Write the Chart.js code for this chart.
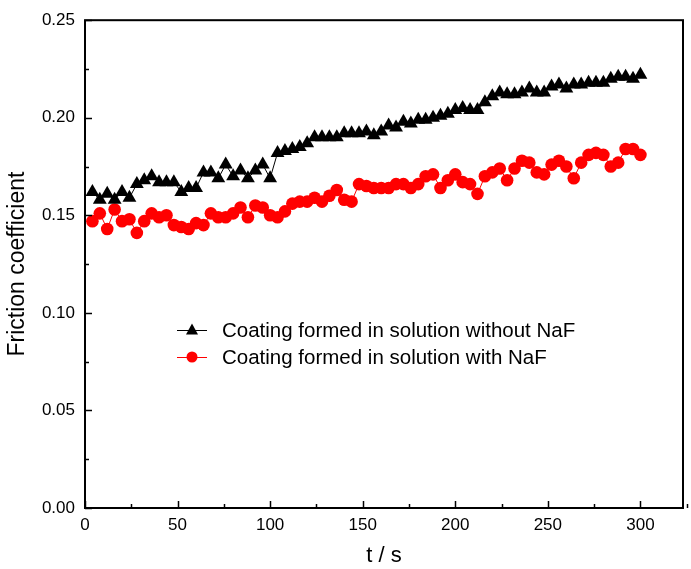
<!DOCTYPE html>
<html>
<head>
<meta charset="utf-8">
<script src="https://cdn.jsdelivr.net/npm/chart.js@4"></script>
<style>
  html, body { margin: 0; padding: 0; background: #fff; }
  #wrap { width: 691px; height: 569px; }
</style>
</head>
<body>
<div id="wrap"><canvas id="chart" width="691" height="569"></canvas></div>
<script>
// time (s)
const times = [4,8,12,16,20,24,28,32,36,40,44,48,52,56,60,64,68,72,76,80,84,88,92,96,100,
  104,108,112,116,120,124,128,132,136,140,144,148,152,156,160,164,168,172,176,180,184,188,192,196,200,
  204,208,212,216,220,224,228,232,236,240,244,248,252,256,260,264,268,272,276,280,284,288,292,296,300];

// Coating formed in solution without NaF
const withoutNaF = [0.162,0.158,0.161,0.158,0.162,0.159,0.166,0.168,0.170,0.167,0.167,0.167,0.162,0.164,0.164,
  0.172,0.172,0.169,0.176,0.170,0.173,0.169,0.173,0.176,0.169,
  0.182,0.183,0.184,0.185,0.187,0.190,0.190,0.190,0.190,0.192,0.192,0.192,0.193,0.191,0.193,
  0.196,0.195,0.198,0.197,0.199,0.199,0.200,0.201,0.202,0.204,
  0.205,0.204,0.204,0.208,0.211,0.213,0.212,0.212,0.213,0.215,0.213,0.213,0.216,0.217,0.215,
  0.217,0.217,0.218,0.218,0.218,0.220,0.221,0.221,0.220,0.222];

// Coating formed in solution with NaF
const withNaF = [0.147,0.151,0.143,0.153,0.147,0.148,0.141,0.147,0.151,0.149,0.150,0.145,0.144,0.143,0.146,
  0.145,0.151,0.149,0.149,0.151,0.154,0.149,0.155,0.154,0.150,
  0.149,0.152,0.156,0.157,0.157,0.159,0.157,0.160,0.163,0.158,0.157,0.166,0.165,0.164,0.164,
  0.164,0.166,0.166,0.164,0.166,0.170,0.171,0.164,0.168,0.171,
  0.167,0.166,0.161,0.170,0.172,0.174,0.168,0.174,0.178,0.177,0.172,0.171,0.176,0.178,0.175,
  0.169,0.177,0.181,0.182,0.181,0.175,0.177,0.184,0.184,0.181];

const seriesNames = ["Coating formed in solution without NaF", "Coating formed in solution with NaF"];
const xTicks = [0, 50, 100, 150, 200, 250, 300];
const yTicks = [0.00, 0.05, 0.10, 0.15, 0.20, 0.25];

const FONT = "'Liberation Sans', Arial, sans-serif";

// inward ticks + frame + legend, Origin style
const frame = {
  id: 'frame',
  afterDraw(chart) {
    const { ctx, chartArea: a, scales: { x, y } } = chart;
    ctx.save();
    ctx.strokeStyle = '#000';
    ctx.lineWidth = 1.5;
    for (let v = 0; v <= 325; v += 25) {
      const px = Math.round(x.getPixelForValue(v)) + 0.5;
      const len = v % 50 === 0 ? 7 : 4;
      ctx.beginPath(); ctx.moveTo(px, a.bottom); ctx.lineTo(px, a.bottom - len); ctx.stroke();
    }
    for (let i = 0; i <= 10; i++) {
      const v = i * 0.025;
      const py = Math.round(y.getPixelForValue(v)) + 0.5;
      const len = i % 2 === 0 ? 7 : 4;
      ctx.beginPath(); ctx.moveTo(a.left, py); ctx.lineTo(a.left + len, py); ctx.stroke();
    }
    ctx.lineWidth = 2;
    ctx.strokeRect(a.left, a.top, a.right - a.left, a.bottom - a.top);

    // legend inside plot
    const rows = [
      { ds: chart.data.datasets[0], y: 330 },
      { ds: chart.data.datasets[1], y: 357 }
    ];
    rows.forEach(r => {
      ctx.strokeStyle = r.ds.borderColor;
      ctx.lineWidth = 1;
      ctx.beginPath(); ctx.moveTo(177, r.y + 0.5); ctx.lineTo(207, r.y + 0.5); ctx.stroke();
      ctx.fillStyle = r.ds.pointBackgroundColor;
      ctx.beginPath();
      if (r.ds.pointStyle === 'triangle') {
        ctx.moveTo(192, r.y - 6.5); ctx.lineTo(198, r.y + 4.5); ctx.lineTo(186, r.y + 4.5); ctx.closePath();
      } else {
        ctx.arc(192, r.y, 5.5, 0, Math.PI * 2);
      }
      ctx.fill();
      ctx.fillStyle = '#000';
      ctx.font = '20.5px ' + FONT;
      ctx.textAlign = 'left';
      ctx.textBaseline = 'middle';
      ctx.fillText(r.ds.label, 222, r.y + 1);
    });
    ctx.restore();
  }
};

new Chart(document.getElementById('chart'), {
  type: 'line',
  data: {
    datasets: [
      {
        label: seriesNames[0],
        data: times.map((t, i) => ({ x: t, y: withoutNaF[i] })),
        borderColor: '#000',
        borderWidth: 1,
        pointStyle: 'triangle',
        pointRadius: 8,
        pointBackgroundColor: '#000',
        pointBorderColor: '#000',
        pointBorderWidth: 0,
        tension: 0
      },
      {
        label: seriesNames[1],
        data: times.map((t, i) => ({ x: t, y: withNaF[i] })),
        borderColor: '#ff0000',
        borderWidth: 1,
        pointStyle: 'circle',
        pointRadius: 6.3,
        pointBackgroundColor: '#ff0000',
        pointBorderColor: '#ff0000',
        pointBorderWidth: 0,
        tension: 0
      }
    ]
  },
  options: {
    responsive: false,
    animation: false,
    layout: { padding: { left: 4, top: 20, right: 7, bottom: 0 } },
    plugins: { legend: { display: false }, tooltip: { enabled: false } },
    scales: {
      x: {
        type: 'linear',
        min: 0, max: 323,
        afterBuildTicks: s => { s.ticks = xTicks.map(v => ({ value: v })); },
        afterFit: s => { s.height = 61; },
        grid: { display: false, drawTicks: false },
        border: { display: false },
        ticks: { color: '#000', font: { family: FONT, size: 17 }, padding: 7 },
        title: { display: true, text: 't / s', color: '#000', font: { family: FONT, size: 22 }, padding: { top: 4, bottom: 0 } }
      },
      y: {
        min: 0, max: 0.25,
        afterBuildTicks: s => { s.ticks = yTicks.map(v => ({ value: v })); },
        afterFit: s => { s.width = 81; },
        grid: { display: false, drawTicks: false },
        border: { display: false },
        ticks: { color: '#000', font: { family: FONT, size: 17 }, padding: 10, callback: v => v.toFixed(2) },
        title: { display: true, text: 'Friction coefficient', color: '#000', font: { family: FONT, size: 23 }, padding: { top: 0, bottom: 6 } }
      }
    }
  },
  plugins: [frame]
});
</script>
</body>
</html>
